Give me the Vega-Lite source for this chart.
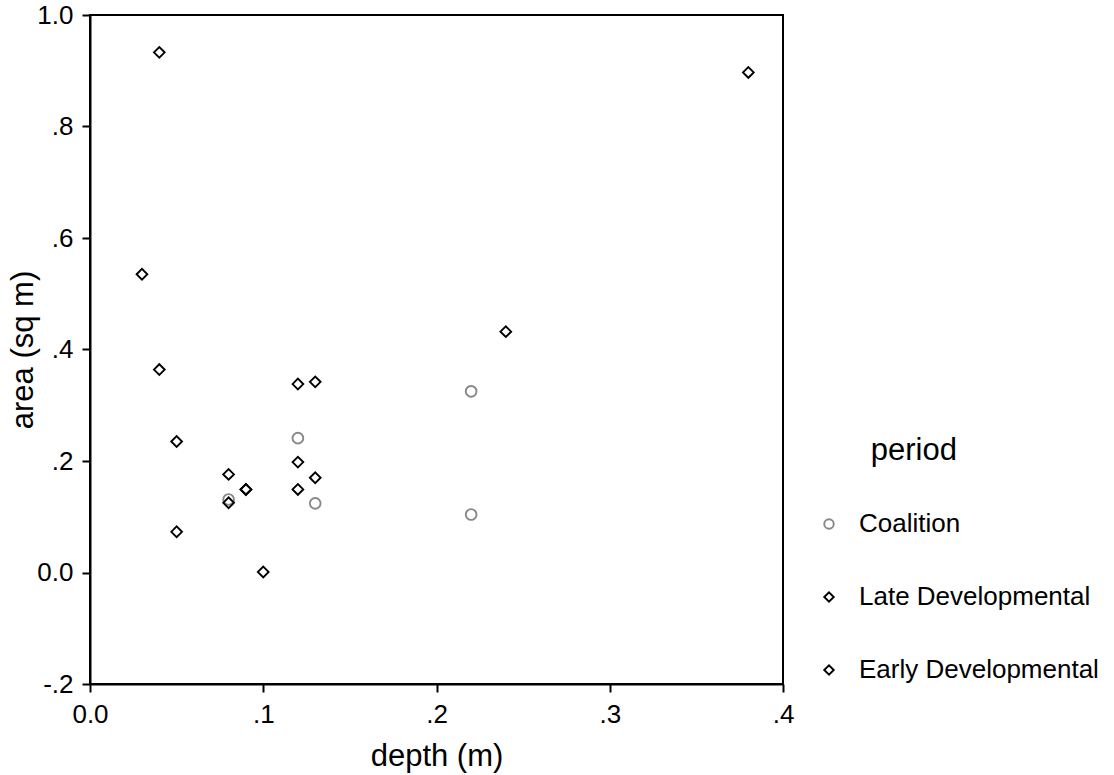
{
  "$schema": "https://vega.github.io/schema/vega-lite/v6.json",
  "width": 693,
  "height": 669,
  "autosize": "none",
  "padding": {"left": 90, "top": 15, "right": 331, "bottom": 91},
  "background": "white",
  "config": {
    "font": "Liberation Sans",
    "view": {"stroke": "black", "strokeWidth": 2}
  },
  "data": {
    "values": [
      {"depth": 0.08, "area": 0.131, "period": "Coalition"},
      {"depth": 0.12, "area": 0.241, "period": "Coalition"},
      {"depth": 0.13, "area": 0.124, "period": "Coalition"},
      {"depth": 0.22, "area": 0.325, "period": "Coalition"},
      {"depth": 0.22, "area": 0.104, "period": "Coalition"},
      {"depth": 0.04, "area": 0.933, "period": "Late Developmental"},
      {"depth": 0.38, "area": 0.897, "period": "Late Developmental"},
      {"depth": 0.03, "area": 0.535, "period": "Late Developmental"},
      {"depth": 0.04, "area": 0.364, "period": "Late Developmental"},
      {"depth": 0.05, "area": 0.235, "period": "Late Developmental"},
      {"depth": 0.24, "area": 0.432, "period": "Late Developmental"},
      {"depth": 0.12, "area": 0.338, "period": "Late Developmental"},
      {"depth": 0.13, "area": 0.342, "period": "Late Developmental"},
      {"depth": 0.09, "area": 0.149, "period": "Late Developmental"},
      {"depth": 0.05, "area": 0.073, "period": "Early Developmental"},
      {"depth": 0.10, "area": 0.001, "period": "Early Developmental"},
      {"depth": 0.12, "area": 0.198, "period": "Early Developmental"},
      {"depth": 0.13, "area": 0.170, "period": "Early Developmental"},
      {"depth": 0.12, "area": 0.149, "period": "Early Developmental"},
      {"depth": 0.08, "area": 0.176, "period": "Early Developmental"},
      {"depth": 0.09, "area": 0.149, "period": "Early Developmental"},
      {"depth": 0.08, "area": 0.125, "period": "Early Developmental"}
    ]
  },
  "mark": {"type": "point", "filled": false, "strokeWidth": 1.9, "size": 115, "opacity": 1},
  "encoding": {
    "x": {
      "field": "depth",
      "type": "quantitative",
      "scale": {"domain": [0, 0.4], "nice": false, "zero": false},
      "axis": {
        "title": "depth (m)",
        "values": [0, 0.1, 0.2, 0.3, 0.4],
        "labelExpr": "datum.value == 0 ? '0.0' : replace(format(datum.value, '.1f'), '0.', '.')",
        "grid": false,
        "domainColor": "black",
        "domainWidth": 2,
        "tickColor": "black",
        "tickWidth": 2,
        "tickSize": 8,
        "labelColor": "black",
        "labelFontSize": 26,
        "labelPadding": 9,
        "labelFlush": false,
        "titleColor": "black",
        "titleFontSize": 31,
        "titleFontWeight": "normal",
        "titlePadding": 14
      }
    },
    "y": {
      "field": "area",
      "type": "quantitative",
      "scale": {"domain": [-0.2, 1.0], "nice": false, "zero": false},
      "axis": {
        "title": "area (sq m)",
        "values": [-0.2, 0, 0.2, 0.4, 0.6, 0.8, 1.0],
        "labelExpr": "datum.value == 0 ? '0.0' : datum.value == 1 ? '1.0' : datum.value < 0 ? '-.2' : replace(format(datum.value, '.1f'), '0.', '.')",
        "grid": false,
        "domainColor": "black",
        "domainWidth": 2,
        "tickColor": "black",
        "tickWidth": 2,
        "tickSize": 8,
        "labelColor": "black",
        "labelFontSize": 26,
        "labelPadding": 9,
        "labelFlush": false,
        "titleColor": "black",
        "titleFontSize": 31,
        "titleFontWeight": "normal",
        "titlePadding": -3
      }
    },
    "color": {
      "field": "period",
      "type": "nominal",
      "scale": {
        "domain": ["Coalition", "Late Developmental", "Early Developmental"],
        "range": ["#888888", "#000000", "#000000"]
      },
      "legend": {
        "title": "period",
        "orient": "none",
        "legendX": 726,
        "legendY": 421,
        "titleFontSize": 31,
        "titleFontWeight": "normal",
        "titleColor": "black",
        "titleAnchor": "middle",
        "titleAlign": "right",
        "titlePadding": 44,
        "labelFontSize": 26,
        "labelColor": "black",
        "labelLimit": 400,
        "labelOffset": 17,
        "rowPadding": 47,
        "symbolSize": 90,
        "symbolStrokeWidth": 1.9,
        "symbolType": "diamond"
      }
    },
    "shape": {
      "field": "period",
      "type": "nominal",
      "scale": {
        "domain": ["Coalition", "Late Developmental", "Early Developmental"],
        "range": ["circle", "diamond", "diamond"]
      },
      "legend": {
        "title": "period",
        "orient": "none",
        "legendX": 726,
        "legendY": 421,
        "titleFontSize": 31,
        "titleFontWeight": "normal",
        "titleColor": "black",
        "titleAnchor": "middle",
        "titleAlign": "right",
        "titlePadding": 44,
        "labelFontSize": 26,
        "labelColor": "black",
        "labelLimit": 400,
        "labelOffset": 17,
        "rowPadding": 47,
        "symbolSize": 90,
        "symbolStrokeWidth": 1.9
      }
    }
  }
}
